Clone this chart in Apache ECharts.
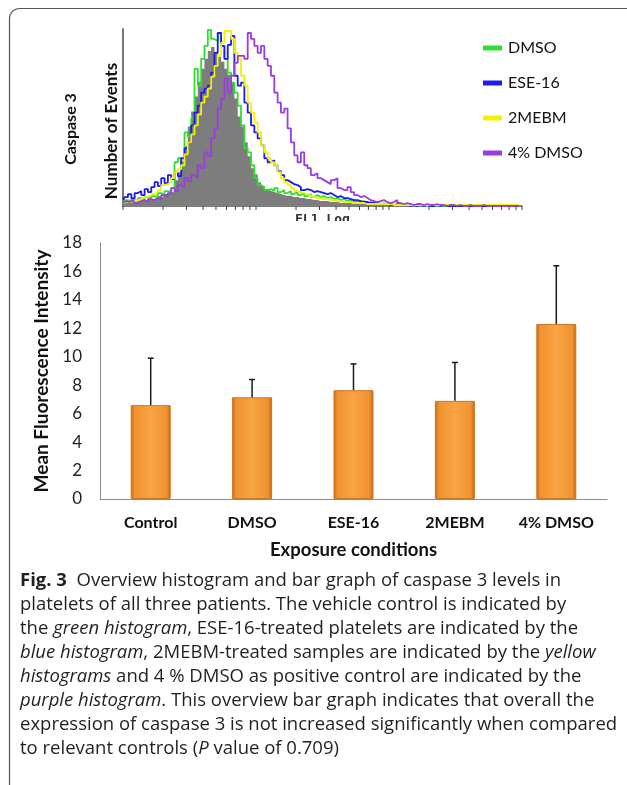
<!DOCTYPE html>
<html>
<head>
<meta charset="utf-8">
<script src="https://cdn.jsdelivr.net/npm/echarts@6/dist/echarts.min.js"></script>
<style>
  html, body { margin: 0; padding: 0; background: #fff; }
  #chart { width: 627px; height: 785px; }
</style>
</head>
<body>
<div id="chart"></div>
<script>
// ---- histogram (FL1 Log), 40 bins per decade over 3 decades ----
const binMantissa = [1.000, 1.059, 1.122, 1.189, 1.259, 1.334, 1.413, 1.496, 1.585, 1.679,
  1.778, 1.884, 1.995, 2.113, 2.239, 2.371, 2.512, 2.661, 2.818, 2.985,
  3.162, 3.350, 3.548, 3.758, 3.981, 4.217, 4.467, 4.732, 5.012, 5.309,
  5.623, 5.957, 6.310, 6.683, 7.079, 7.499, 7.943, 8.414, 8.913, 9.441];
const binDecades = [1, 10, 100];

// grey filled control histogram
const histCtrl = [4, 5, 3, 5, 4, 6, 5, 6, 7, 6,
  8, 10, 9, 12, 13, 15, 26, 34, 45, 60,
  80, 95, 110, 125, 138, 148, 156, 160, 155, 150,
  145, 138, 132, 124, 108, 90, 80, 64, 50, 38,
  32, 24, 20, 17, 15, 14, 13, 12, 11, 10,
  10, 9, 9, 8, 8, 7, 7, 6, 6, 5,
  5, 5, 4, 4, 4, 3, 3, 3, 3, 2,
  2, 2, 2, 2, 1, 1, 1, 1, 1, 1,
  1, 1, 1, 0, 0, 0, 0, 0, 0, 0,
  0, 0, 0, 0, 0, 0, 0, 0, 0, 0,
  0, 0, 0, 0, 0, 0, 0, 0, 0, 0,
  0, 0, 0, 0, 0, 0, 0, 0, 0, 0];
const histDMSO = [3, 6, 4, 7, 5, 8, 6, 9, 7, 10,
  9, 13, 11, 15, 14, 18, 44, 48, 40, 74,
  70, 88, 138, 121, 148, 161, 177, 168, 166, 174,
  161, 148, 134, 124, 114, 101, 81, 58, 54, 41,
  28, 21, 19, 16, 17, 15, 18, 14, 16, 13,
  15, 12, 14, 11, 13, 10, 12, 9, 11, 9,
  10, 8, 9, 7, 8, 6, 7, 5, 6, 5,
  5, 4, 5, 3, 4, 3, 3, 2, 3, 2,
  2, 1, 2, 1, 1, 1, 2, 1, 1, 1,
  1, 0, 1, 0, 1, 0, 0, 1, 0, 0,
  0, 0, 1, 0, 0, 0, 0, 0, 0, 1,
  0, 0, 0, 0, 0, 0, 0, 0, 0, 0];
const histESE16 = [6, 9, 12, 8, 13, 15, 11, 17, 14, 19,
  24, 20, 28, 23, 31, 27, 34, 30, 48, 58,
  64, 81, 94, 101, 114, 118, 121, 134, 154, 174,
  161, 148, 162, 171, 131, 121, 124, 104, 94, 81,
  74, 68, 61, 48, 44, 46, 41, 35, 31, 26,
  24, 22, 21, 19, 16, 17, 16, 14, 15, 14,
  13, 12, 13, 11, 9, 10, 8, 8, 7, 6,
  6, 5, 4, 4, 3, 3, 3, 2, 2, 2,
  1, 1, 2, 1, 1, 1, 0, 1, 0, 1,
  0, 1, 0, 0, 1, 0, 1, 0, 0, 0,
  0, 0, 0, 1, 0, 0, 0, 0, 0, 0,
  0, 1, 0, 0, 0, 0, 0, 0, 0, 0];
const hist2MEBM = [3, 4, 4, 5, 6, 6, 8, 9, 10, 12,
  12, 16, 21, 22, 24, 28, 34, 37, 41, 52,
  64, 72, 81, 92, 104, 110, 118, 130, 141, 152,
  164, 176, 176, 168, 154, 148, 131, 121, 104, 94,
  84, 74, 61, 54, 48, 44, 41, 34, 28, 24,
  21, 18, 15, 14, 13, 12, 10, 9, 8, 8,
  7, 7, 6, 6, 5, 5, 4, 4, 4, 3,
  3, 3, 3, 2, 2, 2, 2, 2, 2, 2,
  2, 1, 1, 1, 1, 1, 1, 1, 1, 1,
  1, 1, 1, 1, 1, 1, 1, 1, 1, 1,
  1, 1, 1, 1, 1, 1, 1, 1, 1, 1,
  1, 1, 1, 1, 1, 1, 1, 1, 1, 1];
const hist4DMSO = [3, 5, 4, 6, 3, 5, 6, 4, 7, 6,
  8, 7, 11, 10, 13, 18, 15, 21, 19, 28,
  25, 31, 29, 41, 38, 54, 50, 68, 78, 98,
  108, 128, 114, 131, 144, 151, 151, 148, 174, 168,
  161, 154, 161, 148, 141, 131, 114, 104, 94, 98,
  78, 64, 51, 44, 54, 41, 38, 31, 33, 28,
  26, 24, 22, 26, 28, 18, 16, 16, 19, 14,
  11, 9, 10, 8, 6, 5, 4, 5, 6, 4,
  3, 4, 6, 3, 2, 3, 2, 1, 2, 2,
  1, 2, 1, 1, 2, 1, 1, 0, 1, 1,
  0, 1, 0, 0, 1, 0, 0, 0, 1, 0,
  0, 0, 0, 0, 0, 0, 0, 0, 0, 0];
const fl1Ticks = [1, 2, 3, 4, 5, 6, 7, 8, 9,
  10, 20, 30, 40, 50, 60, 70, 80, 90,
  100, 200, 300, 400, 500, 600, 700, 800, 900, 1000];
const histNames = ['DMSO', 'ESE-16', '2MEBM', '4% DMSO'];
const histColors = ['#2ee02e', '#1c1cf2', '#f2f200', '#9a3de0'];

// ---- bar graph ----
const categories = ['Control', 'DMSO', 'ESE-16', '2MEBM', '4% DMSO'];
const meanMFI = [6.6, 7.15, 7.65, 6.9, 12.3];
const sdMFI = [3.3, 1.25, 1.85, 2.7, 4.1];
const yTicks = { min: 0, max: 18, interval: 2 };

// ---- caption ----
const captionLines = [
  '{b|Fig. 3}  Overview histogram and bar graph of caspase 3 levels in',
  'platelets of all three patients. The vehicle control is indicated by',
  'the {i|green histogram}, ESE-16-treated platelets are indicated by the',
  '{i|blue histogram}, 2MEBM-treated samples are indicated by the {i|yellow}',
  '{i|histograms} and 4 % DMSO as positive control are indicated by the',
  '{i|purple histogram}. This overview bar graph indicates that overall the',
  'expression of caspase 3 is not increased significantly when compared',
  'to relevant controls ({i|P} value of 0.709)'
];

const fl1Bins = [];
binDecades.forEach(d => binMantissa.forEach(m => fl1Bins.push(+(m * d).toFixed(3))));

const chart = echarts.init(document.getElementById('chart'));
const histSets = [histDMSO, histESE16, hist2MEBM, hist4DMSO];
const chartFont = 'Lato';
const capSize = 18.5;

const histLines = histSets.map((arr, i) => ({
  name: histNames[i],
  type: 'line',
  xAxisIndex: 0,
  yAxisIndex: 0,
  step: 'middle',
  symbol: 'none',
  data: arr.map((v, k) => [fl1Bins[k], v]),
  lineStyle: { color: histColors[i], width: 1.8 },
  itemStyle: { color: histColors[i] },
  z: 3 + i
}));

const captionText = captionLines.map((line, i) => ({
  type: 'text',
  left: 20,
  top: 571 + i * 24.1,
  style: {
    text: line,
    font: capSize + 'px "Open Sans"',
    fill: '#231f20',
    rich: {
      b: { fontWeight: 'bold', fontSize: capSize, fontFamily: 'Open Sans', fill: '#231f20' },
      i: { fontStyle: 'italic', fontSize: capSize, fontFamily: 'Open Sans', fill: '#231f20' }
    }
  }
}));

const option = {
  animation: false,
  backgroundColor: '#fff',
  grid: [
    { left: 123, top: 29, width: 399, height: 177 },
    { left: 100, top: 243, width: 507, height: 256 }
  ],
  legend: {
    data: histNames,
    orient: 'vertical',
    left: 478,
    top: 33,
    itemGap: 15,
    itemWidth: 19,
    itemHeight: 5,
    icon: 'rect',
    textStyle: { fontSize: 16, color: '#111', fontFamily: chartFont, padding: [0, 0, 0, 1], lineHeight: 20 }
  },
  xAxis: [
    {
      gridIndex: 0,
      type: 'log',
      logBase: 10,
      min: 1,
      max: 1000,
      axisLine: { lineStyle: { color: '#555', width: 1.5 } },
      axisTick: { show: false },
      axisLabel: { show: false },
      splitLine: { show: false },
      minorTick: { show: false }
    },
    {
      gridIndex: 1,
      type: 'category',
      data: categories,
      axisLine: { lineStyle: { color: '#8c8c8c', width: 1 } },
      axisTick: { show: false },
      axisLabel: { margin: 16, fontSize: 16, fontWeight: 'bold', color: '#111', fontFamily: chartFont },
      name: 'Exposure conditions',
      nameLocation: 'middle',
      nameGap: 42,
      nameTextStyle: { fontSize: 18.5, fontWeight: 'bold', color: '#111', fontFamily: chartFont }
    }
  ],
  yAxis: [
    {
      gridIndex: 0,
      type: 'value',
      min: 0,
      max: 178,
      axisLine: { show: true, lineStyle: { color: '#777', width: 2 } },
      axisTick: { show: false },
      axisLabel: { show: false },
      splitLine: { show: false }
    },
    {
      gridIndex: 1,
      type: 'value',
      min: yTicks.min,
      max: yTicks.max,
      interval: yTicks.interval,
      axisLine: { show: true, lineStyle: { color: '#8c8c8c', width: 1 } },
      axisTick: { show: false },
      axisLabel: { margin: 18, fontSize: 17, color: '#222', fontFamily: chartFont },
      splitLine: { show: false },
      name: 'Mean Fluorescence Intensity',
      nameLocation: 'middle',
      nameGap: 46,
      nameTextStyle: { fontSize: 19, fontWeight: 'bold', color: '#111', fontFamily: chartFont }
    }
  ],
  series: [
    {
      name: 'Control',
      type: 'line',
      xAxisIndex: 0,
      yAxisIndex: 0,
      step: 'middle',
      symbol: 'none',
      data: histCtrl.map((v, k) => [fl1Bins[k], v]),
      lineStyle: { width: 0 },
      areaStyle: { color: '#7d7d7d', opacity: 1 },
      z: 2
    },
    ...histLines,
    {
      // log-decade tick marks under the FL1 axis
      type: 'custom',
      xAxisIndex: 0,
      yAxisIndex: 0,
      data: fl1Ticks.map(v => [v, 0]),
      renderItem: (params, api) => {
        const p = api.coord([api.value(0), api.value(1)]);
        return {
          type: 'line',
          shape: { x1: p[0], y1: p[1], x2: p[0], y2: p[1] + 4 },
          style: { stroke: '#444', lineWidth: 1 }
        };
      },
      z: 10
    },
    {
      type: 'bar',
      xAxisIndex: 1,
      yAxisIndex: 1,
      data: meanMFI,
      barWidth: 40,
      itemStyle: {
        color: new echarts.graphic.LinearGradient(0, 0, 1, 0, [
          { offset: 0, color: '#c86c18' },
          { offset: 0.1, color: '#f0922f' },
          { offset: 0.5, color: '#f8a445' },
          { offset: 0.9, color: '#f0922f' },
          { offset: 1, color: '#bd6414' }
        ]),
        borderColor: '#cf7420',
        borderWidth: 1
      }
    },
    {
      // upward error bars (mean + SD)
      type: 'custom',
      xAxisIndex: 1,
      yAxisIndex: 1,
      data: meanMFI.map((m, i) => [i, m, m + sdMFI[i]]),
      renderItem: (params, api) => {
        const lo = api.coord([api.value(0), api.value(1)]);
        const hi = api.coord([api.value(0), api.value(2)]);
        const st = { stroke: '#1a1a1a', lineWidth: 1.5 };
        return {
          type: 'group',
          children: [
            { type: 'line', shape: { x1: lo[0], y1: lo[1], x2: hi[0], y2: hi[1] }, style: st },
            { type: 'line', shape: { x1: hi[0] - 3, y1: hi[1], x2: hi[0] + 3, y2: hi[1] }, style: st }
          ]
        };
      },
      z: 5
    }
  ],
  graphic: [
    {
      type: 'rect',
      shape: { x: 9.5, y: 8.5, width: 700, height: 900, r: 10 },
      style: { fill: 'none', stroke: '#555', lineWidth: 1.2 }
    },
    {
      type: 'text',
      x: 71,
      y: 129,
      rotation: Math.PI / 2,
      style: {
        text: 'Caspase 3',
        font: 'bold 16px Lato',
        fill: '#111',
        align: 'center',
        verticalAlign: 'middle'
      }
    },
    {
      type: 'text',
      x: 112,
      y: 131,
      rotation: Math.PI / 2,
      style: {
        text: 'Number of Events',
        font: 'bold 17px Lato',
        fill: '#111',
        align: 'center',
        verticalAlign: 'middle'
      }
    },
    {
      type: 'text',
      left: 295,
      top: 213,
      style: { text: 'FL1 Log', font: 'bold 13px "DejaVu Sans Mono"', fill: '#333' }
    },
    {
      type: 'rect',
      shape: { x: 285, y: 221, width: 80, height: 12 },
      style: { fill: '#fff' }
    },
    ...captionText
  ]
};

chart.setOption(option);
window.addEventListener('resize', () => {
  chart.resize();
});
</script>
</body>
</html>
